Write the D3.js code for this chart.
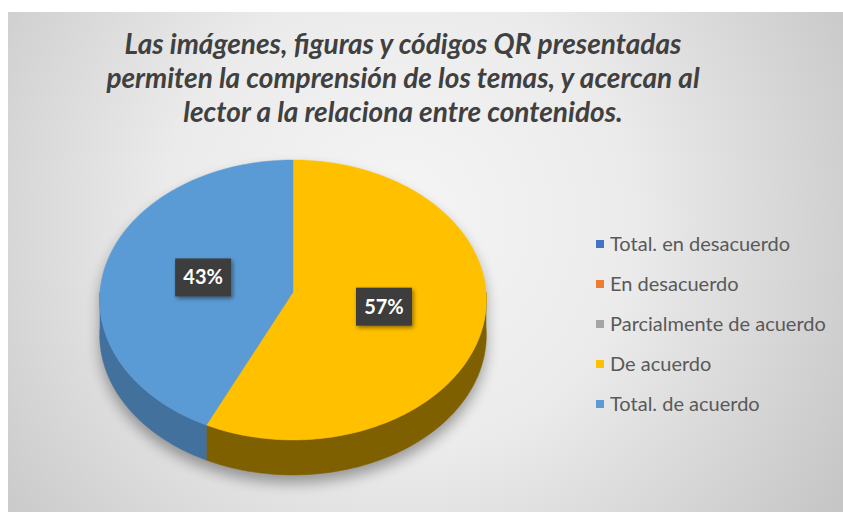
<!DOCTYPE html>
<html>
<head>
<meta charset="utf-8">
<script src="https://cdn.jsdelivr.net/npm/d3@7/dist/d3.min.js"></script>
<style>
  html, body { margin: 0; padding: 0; background: #ffffff; }
  svg { display: block; }
</style>
</head>
<body>
<svg id="chart" width="843" height="512"></svg>
<script>
// Survey answers and their shares (%)
const categories = [
  "Total. en desacuerdo",
  "En desacuerdo",
  "Parcialmente de acuerdo",
  "De acuerdo",
  "Total. de acuerdo"
];
const percentages = [0, 0, 0, 57, 43];

const titleLines = [
  "Las imágenes, figuras y códigos QR presentadas",
  "permiten la comprensión de los temas, y acercan al",
  "lector a la relaciona entre contenidos."
];

// Slice colours: top face and darker side wall
const topColors  = ["#4472c4", "#ed7d31", "#a5a5a5", "#ffc000", "#5b9bd5"];
const sideColors = ["#2f528f", "#ae5a21", "#7b7b7b", "#7f6000", "#41719c"];

const svg = d3.select("#chart");
const W = 843, H = 512;

// ---- background panel ----
const defs = svg.append("defs");
const bg = defs.append("radialGradient")
  .attr("id", "bgGrad")
  .attr("gradientUnits", "userSpaceOnUse")
  .attr("cx", 400).attr("cy", 220).attr("r", 520);
bg.append("stop").attr("offset", 0).attr("stop-color", "#f5f5f5");
bg.append("stop").attr("offset", 0.45).attr("stop-color", "#ebebeb");
bg.append("stop").attr("offset", 1).attr("stop-color", "#c6c6c6");

svg.append("rect")
  .attr("x", 8).attr("y", 12)
  .attr("width", W - 8).attr("height", H - 12)
  .attr("fill", "url(#bgGrad)");

// soft shadows
const shadow = defs.append("filter").attr("id", "pieShadow")
  .attr("x", "-20%").attr("y", "-20%").attr("width", "140%").attr("height", "150%");
shadow.append("feGaussianBlur").attr("stdDeviation", 7);

const lblShadow = defs.append("filter").attr("id", "lblShadow")
  .attr("x", "-30%").attr("y", "-30%").attr("width", "160%").attr("height", "170%");
lblShadow.append("feDropShadow")
  .attr("dx", 1.5).attr("dy", 2).attr("stdDeviation", 2)
  .attr("flood-color", "#000").attr("flood-opacity", 0.45);

// ---- 3D pie geometry (slight perspective tilt) ----
const cx = 293, cy = 292;       // projected centre of the top face
const A = 193, B = 139.5;       // horizontal / vertical radii
const persp = 0.057;            // front of the disc appears larger
const depth = 35;               // thickness of the pie

function proj(angle, dz = 0) {
  const u = Math.sin(angle), v = -Math.cos(angle);
  const w = 1 - persp * v;
  return [cx + A * u / w, cy + B * v / w + dz];
}

const pie = d3.pie().sort(null).value(d => d)(percentages);
const line = d3.line();

function arcPoints(a0, a1, dz = 0) {
  const n = Math.max(2, Math.ceil((a1 - a0) / 0.02));
  return d3.range(n + 1).map(i => proj(a0 + (a1 - a0) * i / n, dz));
}

const pieG = svg.append("g");

// drop shadow of the whole disc
const outline = arcPoints(Math.PI / 2, 3 * Math.PI / 2, depth)
  .concat(arcPoints(3 * Math.PI / 2, Math.PI * 2.5, 0));
pieG.append("path")
  .attr("d", line(outline) + "Z")
  .attr("transform", "translate(0,8)")
  .attr("fill", "#000")
  .attr("opacity", 0.35)
  .attr("filter", "url(#pieShadow)");

// side walls (front half only)
const sides = pie.map((d, i) => {
  const s0 = Math.max(d.startAngle, Math.PI / 2);
  const s1 = Math.min(d.endAngle, 3 * Math.PI / 2);
  return { i, s0, s1, value: d.value };
}).filter(s => s.value > 0 && s.s1 > s.s0);

pieG.selectAll("path.side")
  .data(sides)
  .join("path")
  .attr("class", "side")
  .attr("d", s => line(arcPoints(s.s0, s.s1, 0).concat(arcPoints(s.s0, s.s1, depth).reverse())) + "Z")
  .attr("fill", s => sideColors[s.i])
  .attr("stroke", s => sideColors[s.i])
  .attr("stroke-width", 0.5);

// top faces
pieG.selectAll("path.top")
  .data(pie.filter(d => d.value > 0))
  .join("path")
  .attr("class", "top")
  .attr("d", d => line([[cx, cy]].concat(arcPoints(d.startAngle, d.endAngle, 0))) + "Z")
  .attr("fill", d => topColors[d.index])
  .attr("stroke", d => topColors[d.index])
  .attr("stroke-width", 0.5);

// data labels
const labelG = svg.append("g");
pie.filter(d => d.value > 0).forEach(d => {
  const mid = (d.startAngle + d.endAngle) / 2;
  const f = 0.48;
  const u = Math.sin(mid) * f, v = -Math.cos(mid) * f;
  const w = 1 - persp * v;
  const x = cx + A * u / w, y = cy + B * v / w;
  const g = labelG.append("g").attr("transform", `translate(${x},${y})`);
  g.append("rect")
    .attr("x", -28).attr("y", -19)
    .attr("width", 56).attr("height", 38)
    .attr("fill", "#3d3d3d")
    .attr("filter", "url(#lblShadow)");
  g.append("text")
    .attr("text-anchor", "middle")
    .attr("dy", 7)
    .attr("fill", "#ffffff")
    .attr("font-family", "Lato, 'Open Sans', sans-serif")
    .attr("font-weight", "bold")
    .attr("font-size", 20)
    .text(d.value + "%");
});

// ---- legend ----
const legend = svg.append("g");
const rowY = d3.scalePoint().domain(categories).range([244, 404]);
const items = legend.selectAll("g.item")
  .data(categories)
  .join("g")
  .attr("class", "item")
  .attr("transform", c => `translate(596,${rowY(c)})`);
items.append("rect")
  .attr("x", 0).attr("y", -4)
  .attr("width", 8).attr("height", 8)
  .attr("fill", (c, i) => topColors[i]);
items.append("text")
  .attr("x", 14).attr("y", 7)
  .attr("fill", "#595959")
  .attr("font-family", "Lato, 'Open Sans', sans-serif")
  .attr("font-size", 20)
  .text(c => c);

// ---- title ----
svg.append("g")
  .selectAll("text")
  .data(titleLines)
  .join("text")
  .attr("x", 403)
  .attr("y", (t, i) => 54 + i * 34)
  .attr("text-anchor", "middle")
  .attr("fill", "#404040")
  .attr("font-family", "Lato, 'Open Sans', sans-serif")
  .attr("font-weight", "bold")
  .attr("font-style", "italic")
  .attr("font-size", 28)
  .text(t => t);
</script>
</body>
</html>
